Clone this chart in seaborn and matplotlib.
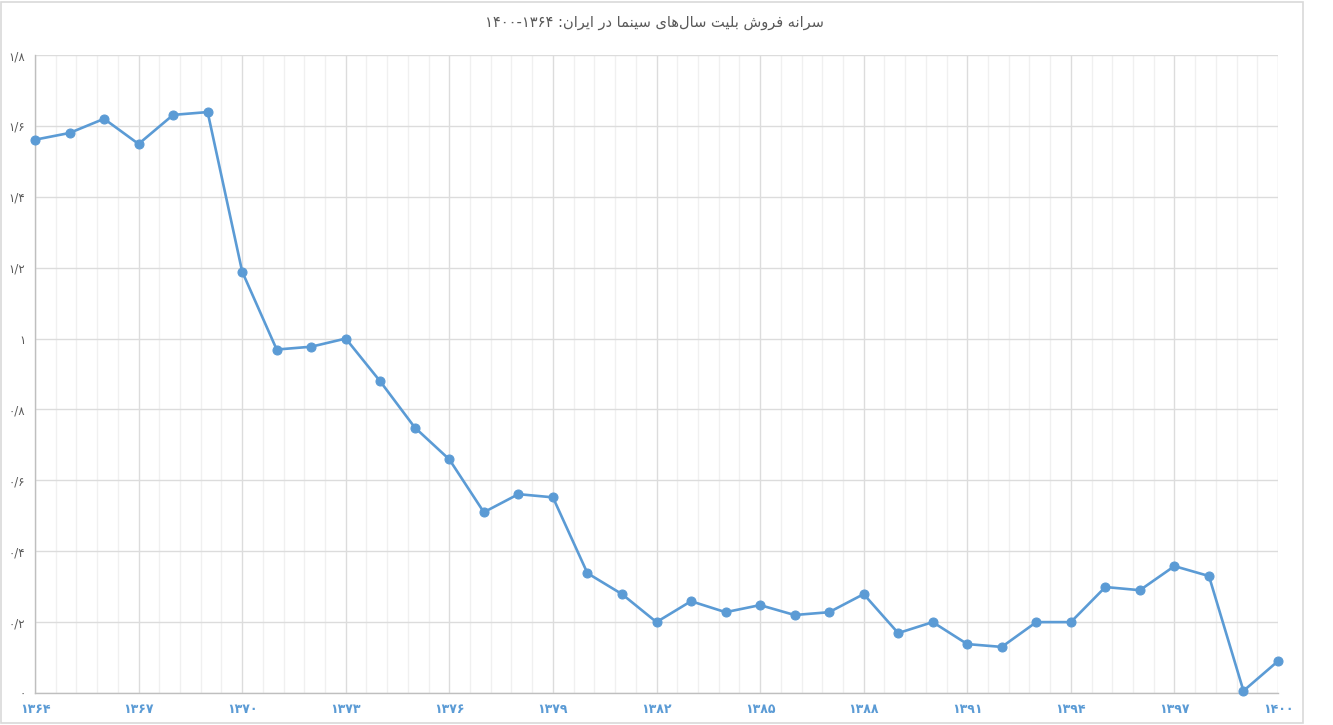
import numpy as np
import pandas as pd
import matplotlib
matplotlib.use("Agg")
import matplotlib.pyplot as plt
import seaborn as sns
from matplotlib.ticker import FixedLocator
from matplotlib.patches import Rectangle

# years 1364..1400 (solar hijri) and ticket sales per capita
years = list(range(1364, 1401))
per_capita = [1.561, 1.580, 1.620, 1.549, 1.631, 1.639, 1.189, 0.969, 0.977, 1.000,
              0.879, 0.749, 0.659, 0.510, 0.561, 0.552, 0.338, 0.279, 0.200, 0.259,
              0.228, 0.248, 0.220, 0.228, 0.279, 0.169, 0.200, 0.138, 0.130, 0.200,
              0.200, 0.299, 0.290, 0.358, 0.330, 0.006, 0.090]

fa_digits = str.maketrans("0123456789", "۰۱۲۳۴۵۶۷۸۹")
x_ticks = years[::3]
x_labels = [str(y).translate(fa_digits) for y in x_ticks]
y_ticks = [0, 0.2, 0.4, 0.6, 0.8, 1.0, 1.2, 1.4, 1.6, 1.8]
y_labels = ["۰", "۰/۲", "۰/۴", "۰/۶", "۰/۸", "۱", "۱/۲", "۱/۴", "۱/۶", "۱/۸"]

# title, shaped by hand (presentation forms, visual order)
w_saraneh = "\uFEEA\uFEE7\uFE8D\uFEAE\uFEB3"
w_forush = "\uFEB5\uFEED\uFEAE\uFED3"
w_belit = "\uFE96\uFEF4\uFEE0\uFE91"
w_salha = "\uFEEF\uFE8E\uFEEB\uFEDD\uFE8E\uFEB3"
w_cinema = "\uFE8E\uFEE4\uFEE8\uFEF4\uFEB3"
w_dar = "\uFEAD\uFEA9"
w_iran = "\uFEE5\uFE8D\uFEAE\uFEF3\uFE8D"
title = "۱۴۰۰-۱۳۶۴ :" + " ".join([w_iran, w_dar, w_cinema, w_salha, w_belit, w_forush, w_saraneh])

df = pd.DataFrame({"year": years, "value": per_capita})

sns.set_style("white")
plt.rcParams["font.family"] = ["DejaVu Sans"]

fig = plt.figure(figsize=(13.33, 7.25), dpi=100)
ax = fig.add_axes([35 / 1333, 32 / 725, 1243 / 1333, 638 / 725])

sns.lineplot(data=df, x="year", y="value", ax=ax, color="#5B9BD5", linewidth=1.9,
             marker="o", markersize=6.5, markeredgecolor="#5B9BD5", zorder=3,
             clip_on=False)

ax.set_xlim(1364, 1400)
ax.set_ylim(0, 1.8)
ax.xaxis.set_major_locator(FixedLocator(x_ticks))
ax.xaxis.set_minor_locator(FixedLocator(np.linspace(1364, 1400, 61)))
ax.set_xticklabels(x_labels, color="#5B9BD5", fontsize=9, fontweight="bold")
ax.set_yticks(y_ticks)
ax.set_yticklabels(y_labels, color="#595959", fontsize=8.5)
ax.tick_params(axis="both", which="both", length=0)
ax.tick_params(axis="x", pad=7)
ax.tick_params(axis="y", pad=7)
ax.grid(True, which="major", color="#dcdcdc", linewidth=1)
ax.grid(True, which="minor", axis="x", color="#f0f0f0", linewidth=1)
ax.set_axisbelow(True)
ax.set_xlabel("")
ax.set_ylabel("")
for side in ["top", "right"]:
    ax.spines[side].set_visible(False)
for side in ["left", "bottom"]:
    ax.spines[side].set_color("#bfbfbf")
    ax.spines[side].set_linewidth(1)

fig.text(654 / 1333, 1 - 22 / 725, title, ha="center", va="center",
         fontsize=10.5, color="#595959")

fig.add_artist(Rectangle((1 / 1333, 2 / 725), 1302 / 1333, 721 / 725,
                         transform=fig.transFigure, fill=False,
                         edgecolor="#d9d9d9", linewidth=1.2))

fig.savefig("out.png", dpi=100)
